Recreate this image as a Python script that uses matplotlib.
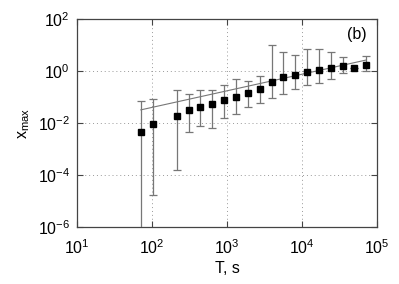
import matplotlib
matplotlib.use('Agg')
import matplotlib.pyplot as plt
import numpy as np

# data
T = [71, 102, 215, 308, 441, 637, 921, 1318, 1905, 2729, 3944, 5650,
     8130, 11770, 16860, 24380, 34800, 50000, 72000]
xmax = [0.0044, 0.0094, 0.0186, 0.031, 0.042, 0.054, 0.075, 0.103, 0.142,
        0.204, 0.38, 0.57, 0.68, 0.94, 1.12, 1.27, 1.6, 1.3, 1.7]
err_hi = [0.072, 0.087, 0.186, 0.134, 0.18, 0.18, 0.28, 0.50, 0.40, 0.62,
          10.0, 5.5, 4.0, 6.8, 6.8, 5.5, 3.5, 1.3, 3.7]
err_lo = [1e-7, 1.66e-5, 1.5e-4, 0.0044, 0.0079, 0.0066, 0.0156, 0.022, 0.040,
          0.057, 0.094, 0.13, 0.20, 0.28, 0.36, 0.51, 0.84, 1.3, 1.0]

fit_T = [71, 72000]
fit_x = [0.032, 2.65]

plt.rcParams['font.family'] = ['Liberation Sans', 'DejaVu Sans']
plt.rcParams['mathtext.fontset'] = 'custom'
plt.rcParams['mathtext.rm'] = 'Liberation Sans'
plt.rcParams['mathtext.it'] = 'Liberation Sans'

fig = plt.figure(figsize=(3.99, 2.84), dpi=100)
ax = fig.add_axes([77/399, 1-227/284, 300/399, 208/284])

T_a = np.array(T)
x_a = np.array(xmax)
yerr = [x_a - np.array(err_lo), np.array(err_hi) - x_a]

ax.plot(fit_T, fit_x, color='#777777', lw=0.8, zorder=2)
ax.errorbar(T_a, x_a, yerr=yerr, fmt='none', ecolor='#777777', elinewidth=0.9,
            capsize=3, capthick=0.9, zorder=3)
ax.plot(T_a, x_a, 's', color='black', ms=4.8, zorder=4)

ax.set_xscale('log')
ax.set_yscale('log')
ax.set_xlim(10, 1e5)
ax.set_ylim(1e-6, 1e2)
ax.minorticks_off()
xt = [1e1, 1e2, 1e3, 1e4, 1e5]
yt = [1e-6, 1e-4, 1e-2, 1e0, 1e2]
ax.set_xticks(xt)
ax.set_xticklabels([r'$\mathrm{10^{%d}}$' % int(np.log10(v)) for v in xt])
ax.set_yticks(yt)
ax.set_yticklabels([r'$\mathrm{10^{%d}}$' % int(np.log10(v)) for v in yt])
ax.tick_params(direction='in', top=True, right=True, length=4, labelsize=11.5,
               color='#444444')
ax.tick_params(axis='x', pad=8)
ax.tick_params(axis='y', pad=5)
ax.grid(True, linestyle=(0, (1, 3)), color='#999999', lw=0.7)
for s in ax.spines.values():
    s.set_color('#444444')
    s.set_linewidth(0.9)

ax.set_xlabel('T, s', fontsize=11.5, labelpad=3)
ax.set_ylabel(r'x$_{\mathrm{max}}$', fontsize=11.5, labelpad=4)
ax.text(0.967, 0.96, '(b)', transform=ax.transAxes, ha='right', va='top',
        fontsize=11.5)

fig.savefig('out.png', dpi=100)
